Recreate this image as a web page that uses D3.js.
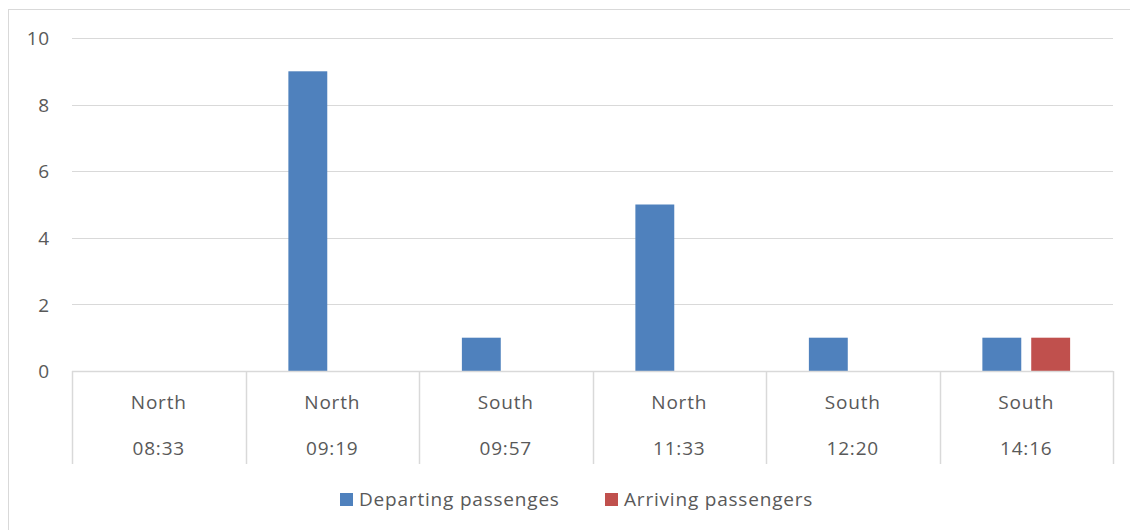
<!DOCTYPE html>
<html>
<head>
<meta charset="utf-8">
<script src="https://cdn.jsdelivr.net/npm/d3@7"></script>
<style>
  html, body { margin: 0; padding: 0; background: #fff; }
  svg { display: block; }
  text { font-family: "Open Sans", Lato, sans-serif; fill: #595959; letter-spacing: 0.8px; }
</style>
</head>
<body>
<svg id="chart" width="1130" height="530"></svg>
<script>
// Passenger counts per train, grouped by direction and departure time
const directions = ["North", "North", "South", "North", "South", "South"];
const times = ["08:33", "09:19", "09:57", "11:33", "12:20", "14:16"];
const seriesNames = ["Departing passenges", "Arriving passengers"];
const departing = [0, 9, 1, 5, 1, 1];
const arriving = [0, 0, 0, 0, 0, 1];
const yTicks = [0, 2, 4, 6, 8, 10];
const colors = ["#4F81BD", "#C0504D"];

const svg = d3.select("#chart");
const W = 1130, H = 530;
const plot = { left: 72, right: 1113, top: 38, bottom: 371 };
const gridColor = "#D9D9D9";
const fontSize = 19;

// chart area border
svg.append("rect")
  .attr("x", 8.5).attr("y", 9.5)
  .attr("width", W + 10).attr("height", H + 10)
  .attr("fill", "#fff").attr("stroke", gridColor).attr("stroke-width", 1);

const idx = d3.range(times.length);
const x0 = d3.scaleBand().domain(idx).range([plot.left, plot.right]).padding(0);
const x1 = d3.scaleBand().domain(seriesNames)
  .range([0, x0.bandwidth()])
  .paddingInner(0.204).paddingOuter(0.8776);
const y = d3.scaleLinear().domain([0, 10]).range([plot.bottom, plot.top]);

// horizontal gridlines
svg.append("g").selectAll("line").data(yTicks.filter(t => t > 0)).join("line")
  .attr("x1", plot.left).attr("x2", plot.right)
  .attr("y1", d => Math.round(y(d)) + 0.5).attr("y2", d => Math.round(y(d)) + 0.5)
  .attr("stroke", gridColor).attr("stroke-width", 1);

// y-axis labels
const yAxis = d3.axisLeft(y).tickValues(yTicks).tickSize(0).tickPadding(0);
const gy = svg.append("g").attr("transform", `translate(${plot.left - 22},0)`).call(yAxis);
gy.select(".domain").remove();
gy.selectAll("text")
  .attr("font-size", fontSize).attr("fill", "#595959")
  .attr("font-family", "'Open Sans', Lato, sans-serif")
  .attr("dy", "0.35em");

// bars
const series = [departing, arriving];
const gBars = svg.append("g");
series.forEach((vals, si) => {
  gBars.selectAll(null).data(idx).join("rect")
    .attr("x", i => x0(i) + x1(seriesNames[si]))
    .attr("width", x1.bandwidth())
    .attr("y", i => y(vals[i]))
    .attr("height", i => y(0) - y(vals[i]))
    .attr("fill", colors[si]);
});

// category axis: baseline and group separators
const axisBottom = 464;
svg.append("line")
  .attr("x1", plot.left).attr("x2", plot.right)
  .attr("y1", plot.bottom + 0.5).attr("y2", plot.bottom + 0.5)
  .attr("stroke", gridColor).attr("stroke-width", 1.5);
const bounds = idx.map(i => x0(i)).concat([plot.right]);
svg.append("g").selectAll("line").data(bounds).join("line")
  .attr("x1", d => Math.round(d) + 0.5).attr("x2", d => Math.round(d) + 0.5)
  .attr("y1", plot.bottom).attr("y2", axisBottom)
  .attr("stroke", gridColor).attr("stroke-width", 1.5);

// two-level category labels
const gCat = svg.append("g").attr("font-size", fontSize).attr("text-anchor", "middle");
gCat.selectAll(".dir").data(idx).join("text")
  .attr("x", i => x0(i) + x0.bandwidth() / 2)
  .attr("y", 402).attr("dy", "0.35em")
  .text(i => directions[i]);
gCat.selectAll(".time").data(idx).join("text")
  .attr("x", i => x0(i) + x0.bandwidth() / 2)
  .attr("y", 448).attr("dy", "0.35em")
  .text(i => times[i]);

// legend
const legendX = [340, 605];
const gLeg = svg.append("g");
seriesNames.forEach((name, si) => {
  gLeg.append("rect")
    .attr("x", legendX[si]).attr("y", 493)
    .attr("width", 13).attr("height", 13)
    .attr("fill", colors[si]);
  gLeg.append("text")
    .attr("x", legendX[si] + 19).attr("y", 499.5).attr("dy", "0.35em")
    .attr("font-size", fontSize)
    .text(name);
});
</script>
</body>
</html>
